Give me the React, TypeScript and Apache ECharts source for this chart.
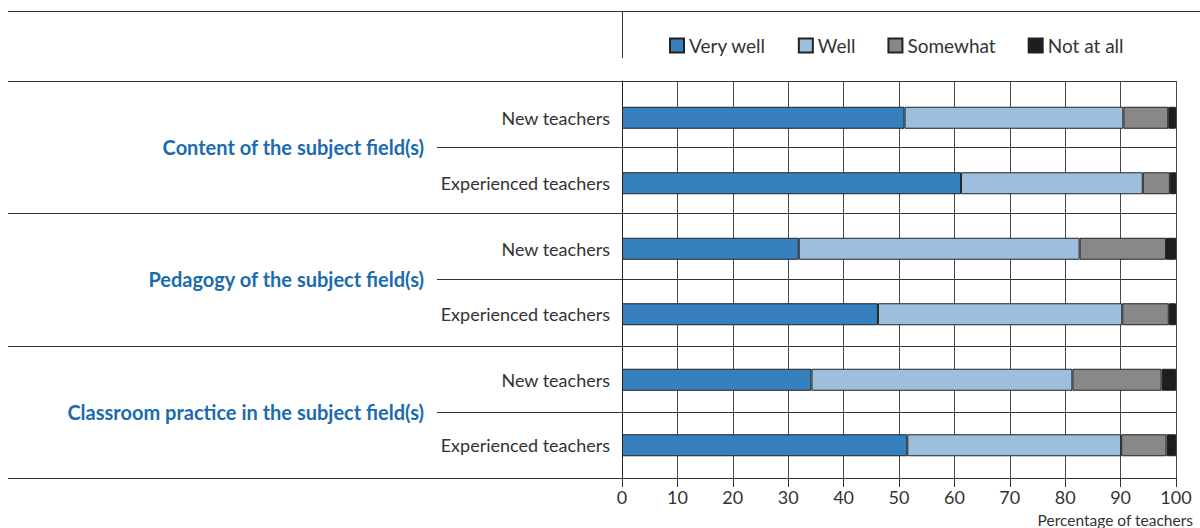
import React, { useEffect, useRef } from "react";
import * as echarts from "echarts";

const rowLabels = [
  "New teachers",
  "Experienced teachers",
  "New teachers",
  "Experienced teachers",
  "New teachers",
  "Experienced teachers",
];
const groupLabels = [
  "Content of the subject field(s)",
  "Pedagogy of the subject field(s)",
  "Classroom practice in the subject field(s)",
];
const seriesNames = ["Very well", "Well", "Somewhat", "Not at all"];
const veryWell = [51.0, 61.2, 31.9, 46.2, 34.2, 51.5];
const well = [39.5, 32.8, 50.7, 44.1, 47.1, 38.6];
const somewhat = [8.1, 4.9, 15.6, 8.4, 16.1, 8.2];
const notAtAll = [1.4, 1.1, 1.8, 1.3, 2.6, 1.7];
const colors = ["#3580BD", "#9BBFDC", "#888888", "#1E1E1E"];
const xTicks = [0, 10, 20, 30, 40, 50, 60, 70, 80, 90, 100];

const FONT = "Lato, 'Open Sans', sans-serif";

export default function App() {
  const ref = useRef<HTMLDivElement>(null);
  useEffect(() => {
    if (!ref.current) return;
    const chart = echarts.init(ref.current, undefined, { renderer: "svg" });
    const values = [veryWell, well, somewhat, notAtAll];
    const lineStyle = { stroke: "#333", lineWidth: 1 };
    const hline = (x1: number, x2: number, y: number) => ({
      type: "line",
      shape: { x1, y1: y + 0.5, x2, y2: y + 0.5 },
      style: lineStyle,
      silent: true,
    });
    const graphics: any[] = [
      hline(8, 1200, 11),
      hline(8, 1176, 81),
      hline(8, 1176, 213),
      hline(8, 1176, 346),
      hline(8, 1176, 478),
      {
        type: "line",
        shape: { x1: 622.5, y1: 11, x2: 622.5, y2: 58 },
        style: lineStyle,
        silent: true,
      },
    ];
    const groupYs = [147, 279, 412];
    groupLabels.forEach((g, i) => {
      graphics.push(hline(437, 1176, groupYs[i]));
      graphics.push({
        type: "text",
        x: 424,
        y: groupYs[i],
        style: {
          text: g,
          align: "right",
          verticalAlign: "middle",
          font: `bold 20px ${FONT}`,
          fill: "#1B6BB0",
        },
      });
    });
    graphics.push({
      type: "text",
      x: 1193,
      y: 520,
      style: {
        text: "Percentage of teachers",
        align: "right",
        verticalAlign: "middle",
        font: `15.5px ${FONT}`,
        fill: "#333",
      },
    });

    chart.setOption({
      animation: false,
      textStyle: { fontFamily: FONT },
      legend: {
        left: 669,
        top: 36,
        padding: 0,
        itemWidth: 14,
        itemHeight: 14,
        itemGap: 32,
        icon: "rect",
        textStyle: { fontSize: 19, color: "#333", fontFamily: FONT },
        data: seriesNames,
      },
      grid: [
        { left: 622, right: 24, top: 81, bottom: 50 },
        { left: 622, right: 24, top: 85, bottom: 50 },
      ],
      xAxis: [
        {
          gridIndex: 0,
          type: "value",
          min: 0,
          max: 100,
          interval: 10,
          axisLine: { show: false },
          axisTick: {
            show: true,
            length: 9,
            lineStyle: { color: "#333" },
          },
          axisLabel: {
            fontSize: 18,
            color: "#333",
            margin: 10,
            fontFamily: FONT,
            formatter: (v: number) => (xTicks.includes(v) ? String(v) : ""),
          },
          splitLine: { show: true, lineStyle: { color: "#4a4a4a", width: 1 } },
        },
        {
          gridIndex: 1,
          type: "value",
          min: 0,
          max: 100,
          interval: 10,
          show: false,
        },
      ],
      yAxis: [
        {
          gridIndex: 0,
          type: "value",
          min: 0,
          max: 1,
          axisLine: { show: true, lineStyle: { color: "#222" } },
          axisTick: { show: false },
          axisLabel: { show: false },
          splitLine: { show: false },
        },
        {
          gridIndex: 1,
          type: "category",
          inverse: true,
          data: rowLabels,
          axisLine: { show: false },
          axisTick: { show: false },
          axisLabel: {
            fontSize: 18,
            color: "#333",
            margin: 12,
            fontFamily: FONT,
          },
        },
      ],
      series: seriesNames.map((name, i) => ({
        name,
        type: "bar",
        stack: "total",
        xAxisIndex: 1,
        yAxisIndex: 1,
        barWidth: 22,
        data: values[i],
        itemStyle: {
          color: colors[i],
          borderColor: "#222",
          borderWidth: 1,
        },
      })),
      graphic: graphics,
    });
    return () => chart.dispose();
  }, []);
  return (
    <div
      ref={ref}
      style={{ position: "fixed", left: 0, top: 0, width: 1200, height: 528, background: "#fff" }}
    />
  );
}
